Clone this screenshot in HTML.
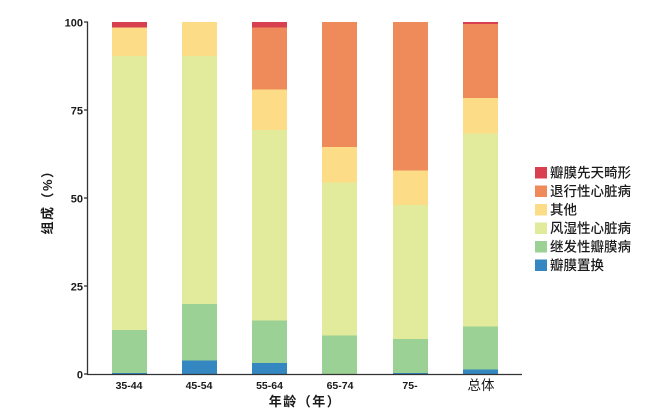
<!DOCTYPE html>
<html><head><meta charset="utf-8"><style>
html,body{margin:0;padding:0;background:#fff;}
svg{display:block;}
.t{font-family:"Liberation Sans",sans-serif;font-weight:bold;fill:#1a1a1a;}
.c{font-family:"Liberation Sans","Noto Sans CJK SC",sans-serif;fill:#1a1a1a;}
</style></head><body>
<svg width="661" height="416" viewBox="0 0 661 416" xmlns="http://www.w3.org/2000/svg">
<rect width="661" height="416" fill="#fff"/>
<g shape-rendering="crispEdges">
<!-- Bar1 -->
<rect x="112" y="22" width="35" height="5.3" fill="#D8404F"/>
<rect x="112" y="27.3" width="35" height="28.7" fill="#FDDC88"/>
<rect x="112" y="56" width="35" height="274" fill="#E2EA9C"/>
<rect x="112" y="330" width="35" height="43" fill="#9BD194"/>
<rect x="112" y="373" width="35" height="1" fill="#3487C0"/>
<!-- Bar2 -->
<rect x="182" y="22" width="35" height="34" fill="#FDDC88"/>
<rect x="182" y="56" width="35" height="248" fill="#E2EA9C"/>
<rect x="182" y="304" width="35" height="56.3" fill="#9BD194"/>
<rect x="182" y="360.3" width="35" height="13.7" fill="#3487C0"/>
<!-- Bar3 -->
<rect x="252" y="22" width="35" height="5.3" fill="#D8404F"/>
<rect x="252" y="27.3" width="35" height="62" fill="#EF8B5B"/>
<rect x="252" y="89.3" width="35" height="40.7" fill="#FDDC88"/>
<rect x="252" y="130" width="35" height="190.3" fill="#E2EA9C"/>
<rect x="252" y="320.3" width="35" height="42.7" fill="#9BD194"/>
<rect x="252" y="363" width="35" height="11" fill="#3487C0"/>
<!-- Bar4 -->
<rect x="322" y="22" width="35" height="125" fill="#EF8B5B"/>
<rect x="322" y="147" width="35" height="35.7" fill="#FDDC88"/>
<rect x="322" y="182.7" width="35" height="153" fill="#E2EA9C"/>
<rect x="322" y="335.7" width="35" height="38.3" fill="#9BD194"/>
<!-- Bar5 -->
<rect x="393" y="22" width="35" height="148.7" fill="#EF8B5B"/>
<rect x="393" y="170.7" width="35" height="34.3" fill="#FDDC88"/>
<rect x="393" y="205" width="35" height="134" fill="#E2EA9C"/>
<rect x="393" y="339" width="35" height="34" fill="#9BD194"/>
<rect x="393" y="373" width="35" height="1" fill="#3487C0"/>
<!-- Bar6 -->
<rect x="463" y="22" width="35" height="2" fill="#D8404F"/>
<rect x="463" y="24" width="35" height="74" fill="#EF8B5B"/>
<rect x="463" y="98" width="35" height="35.3" fill="#FDDC88"/>
<rect x="463" y="133.3" width="35" height="193.4" fill="#E2EA9C"/>
<rect x="463" y="326.7" width="35" height="42.6" fill="#9BD194"/>
<rect x="463" y="369.3" width="35" height="4.7" fill="#3487C0"/>
</g>
<!-- axes -->
<g stroke="#333" stroke-width="1.3" fill="none">
<line x1="87.5" y1="21.5" x2="87.5" y2="375"/>
<line x1="87" y1="374.5" x2="522" y2="374.5"/>
<line x1="84" y1="22" x2="87.5" y2="22"/>
<line x1="84" y1="110" x2="87.5" y2="110"/>
<line x1="84" y1="198" x2="87.5" y2="198"/>
<line x1="84" y1="286" x2="87.5" y2="286"/>
<line x1="84" y1="374" x2="87.5" y2="374"/>
</g>
<g class="t" font-size="11" text-anchor="end">
<text x="83" y="26.5">100</text>
<text x="83" y="114.5">75</text>
<text x="83" y="202.5">50</text>
<text x="83" y="290.5">25</text>
<text x="83" y="378.5">0</text>
</g>
<g class="t" font-size="10.5" text-anchor="middle">
<text x="129" y="389">35-44</text>
<text x="199" y="389">45-54</text>
<text x="269.5" y="389">55-64</text>
<text x="340" y="389">65-74</text>
<text x="410" y="389">75-</text>
</g>
<text class="c" x="481" y="390" font-size="13.5" text-anchor="middle">总体</text>
<text class="c" x="305" y="406" font-size="13" font-weight="bold" text-anchor="middle" letter-spacing="1.5">年龄（年）</text>
<text class="c" transform="translate(52,199) rotate(-90)" font-size="13" font-weight="bold" text-anchor="middle" letter-spacing="1.5">组成（%）</text>
<!-- legend -->
<g shape-rendering="crispEdges">
<rect x="535" y="167" width="12" height="11.5" fill="#D8404F"/>
<rect x="535" y="185.5" width="12" height="11.5" fill="#EF8B5B"/>
<rect x="535" y="204" width="12" height="11.5" fill="#FDDC88"/>
<rect x="535" y="222.5" width="12" height="11.5" fill="#E2EA9C"/>
<rect x="535" y="241" width="12" height="11.5" fill="#9BD194"/>
<rect x="535" y="259.5" width="12" height="11.5" fill="#3487C0"/>
</g>
<g class="c" font-size="13.5" font-weight="500">
<text x="550" y="177.5">瓣膜先天畸形</text>
<text x="550" y="196">退行性心脏病</text>
<text x="550" y="214.5">其他</text>
<text x="550" y="233">风湿性心脏病</text>
<text x="550" y="251.5">继发性瓣膜病</text>
<text x="550" y="270">瓣膜置换</text>
</g>
</svg>
</body></html>
